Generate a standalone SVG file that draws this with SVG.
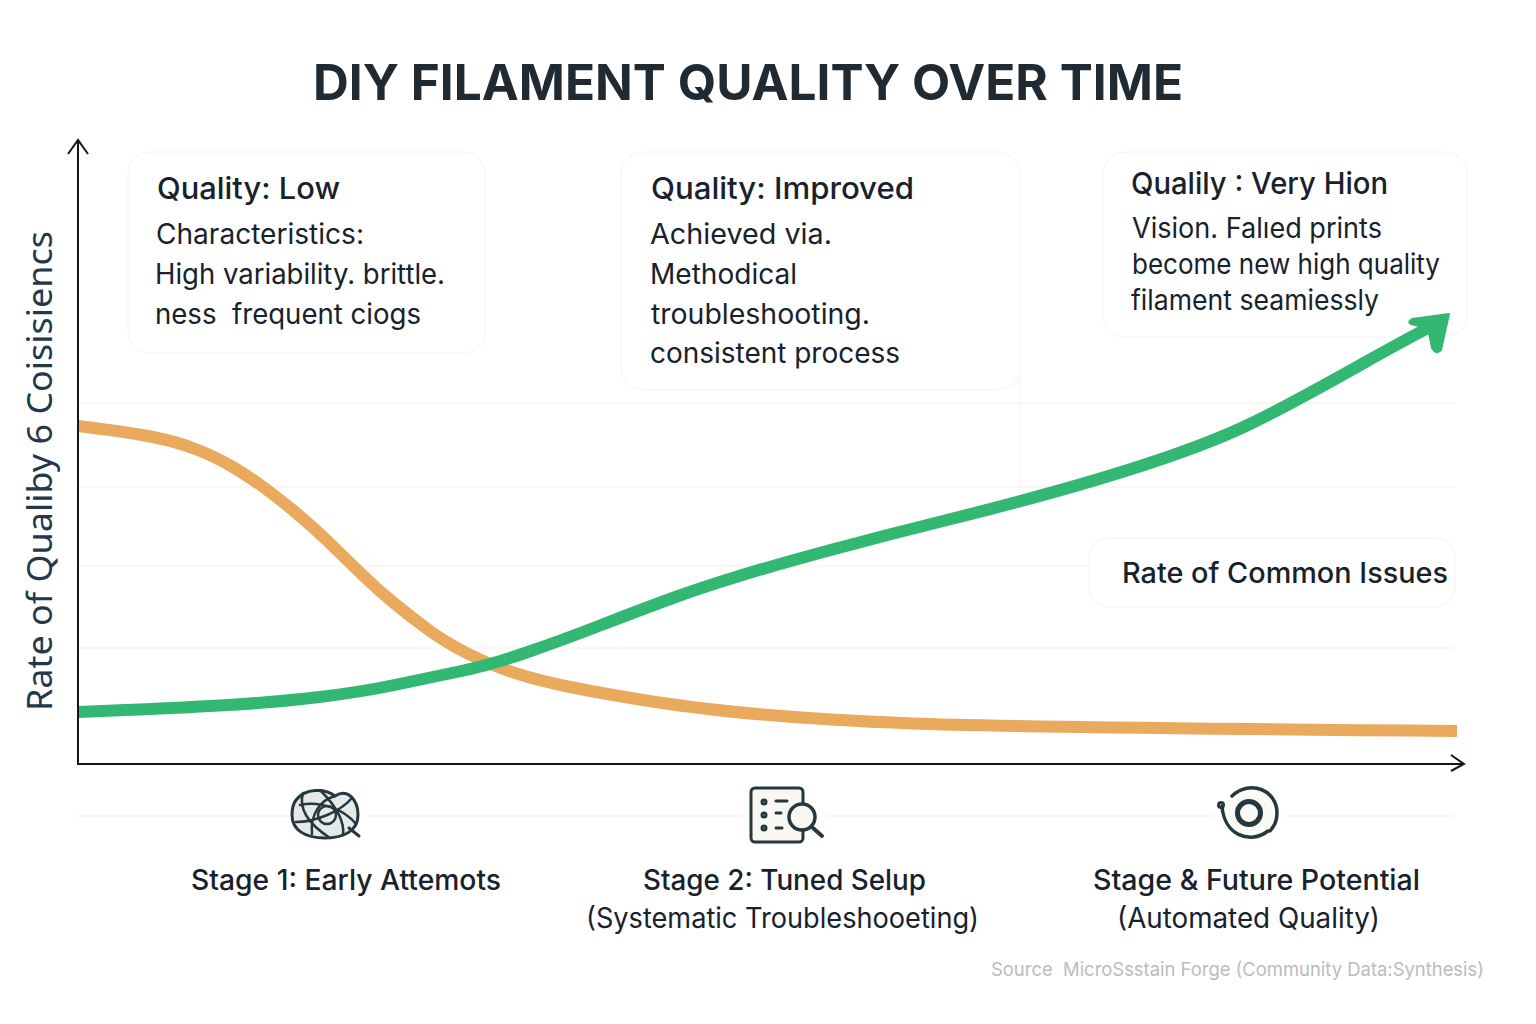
<svg xmlns="http://www.w3.org/2000/svg" width="1536" height="1024" viewBox="0 0 1536 1024">
<style>
text{font-family:"Inter","Noto Sans","Liberation Sans",sans-serif;fill:#18222c;white-space:pre}
.h{font-size:30px;font-weight:500}
.b{font-size:28px}
.s{font-size:28px;font-weight:500}
.t{font-size:50px;font-weight:700;fill:#1f2a33}
.box{fill:#fff;stroke:#f8f8f3;stroke-width:1.500}
.grid{stroke:#f7f6ef;stroke-width:1.500;fill:none}
.axis{stroke:#10161a;stroke-width:2;fill:none}
.ic{fill:none;stroke:#25373f;stroke-linecap:round;stroke-linejoin:round}
</style>
<rect width="1536" height="1024" fill="#fff"/>
<g id="grid">
<path class="grid" d="M78 403H1455M78 487H1455M78 566H1088M78 648H1455M78 816H290M365 816H750M825 816H1215M1285 816H1455M1020 340V487"/>
</g>
<g id="title"><text class="t" x="313" y="100" textLength="870" lengthAdjust="spacingAndGlyphs">DIY FILAMENT QUALITY OVER TIME</text></g>
<g id="y-label"><text transform="translate(52,711) rotate(-90)" font-size="35" textLength="480" lengthAdjust="spacingAndGlyphs" style="font-family:'Noto Sans',sans-serif;fill:#23384a">Rate of Qualiby 6 Coisisiencs</text></g>
<g id="box-low">
<rect class="box" x="128" y="152" width="357" height="201" rx="22"/>
<text class="h" x="157" y="199" textLength="183" lengthAdjust="spacingAndGlyphs">Quality: Low</text>
<text class="b" x="156" y="244" textLength="208" lengthAdjust="spacingAndGlyphs">Characteristics:</text>
<text class="b" x="155" y="284" textLength="290" lengthAdjust="spacingAndGlyphs">High variability. brittle.</text>
<text class="b" x="155" y="324" textLength="266" lengthAdjust="spacingAndGlyphs">ness  frequent ciogs</text>
</g>
<g id="box-improved">
<rect class="box" x="621" y="152" width="399" height="238" rx="22"/>
<text class="h" x="651" y="199" textLength="263" lengthAdjust="spacingAndGlyphs">Quality: Improved</text>
<text class="b" x="650" y="244" textLength="182" lengthAdjust="spacingAndGlyphs">Achieved via.</text>
<text class="b" x="650" y="284" textLength="147" lengthAdjust="spacingAndGlyphs">Methodical</text>
<text class="b" x="651" y="324" textLength="219" lengthAdjust="spacingAndGlyphs">troubleshooting.</text>
<text class="b" x="650" y="363" textLength="250" lengthAdjust="spacingAndGlyphs">consistent process</text>
</g>
<g id="box-high">
<rect class="box" x="1103" y="152" width="364" height="185" rx="22"/>
<text class="h" x="1131" y="194" textLength="257" lengthAdjust="spacingAndGlyphs">Qualily : Very Hion</text>
<text class="b" x="1132" y="238" textLength="250" lengthAdjust="spacingAndGlyphs">Vision. Falıed prints</text>
<text class="b" x="1132" y="274" textLength="308" lengthAdjust="spacingAndGlyphs">become new high quality</text>
<text class="b" x="1131" y="310" textLength="248" lengthAdjust="spacingAndGlyphs">filament seamiessly</text>
</g>
<g id="box-issues">
<rect class="box" x="1089" y="538" width="366" height="69" rx="20"/>
<text class="s" x="1122" y="583" textLength="326" lengthAdjust="spacingAndGlyphs">Rate of Common Issues</text>
</g>
<g id="connectors">
<path d="M78 426Q128 432 153 437Q178 442 198 450Q218 458 234.500 468Q251 478 264.500 488Q278 498 294.500 511.500Q311 525 328 541.500Q345 558 361.500 574Q378 590 394.500 603.500Q411 617 428 629.500Q445 642 467.500 653.500Q490 665 515 673Q540 681 572.500 687.500Q605 694 652.500 701.500Q700 709 762.500 714.500Q825 720 912.500 723.500Q1000 727 1457 731" fill="none" stroke="#e9aa5e" stroke-width="12"/>
<path d="M78 712Q178 708 228 705Q278 702 319.500 697Q361 692 394.500 685Q428 678 459 671.500Q490 665 525 653Q560 641 600 625.500Q640 610 670 599Q700 588 737.500 576.500Q775 565 832.500 549.500Q890 534 945 520.500C1060 492 1180 458 1250 424C1320 390 1380 352 1434 325" fill="none" stroke="#33b873" stroke-width="12"/>
<path d="M1449 314L1412 319Q1407 322 1411 324L1428 328L1432 348Q1436 355 1441 350Z" fill="#33b873" stroke="#33b873" stroke-width="2" stroke-linejoin="round"/>
<path class="axis" d="M78 765V140M68 154L78 140L88 154M78 764H1463M1451 755L1464 764L1451 771"/>
</g>
<g id="icon-tangle" class="ic">
<path d="M296 800C305 788 325 788 335 796C348 788 358 800 358 815C358 830 345 838 325 838C305 838 292 830 292 815C292 808 293 804 296 800Z" fill="#e6eae6" stroke-width="3"/>
<path d="M335 796C320 800 310 815 312 834M303 793C298 810 310 825 330 838M296 822C315 822 340 812 352 798M300 805C320 800 345 810 356 824M320 790C335 805 345 820 343 835" stroke-width="2.500"/>
<circle cx="327" cy="815" r="9" stroke-width="2.500"/>
<path d="M349 828L359 836" stroke-width="3"/>
</g>
<g id="icon-checklist" class="ic">
<rect x="751" y="788" width="52" height="54" rx="4" fill="#f8f7f1" stroke-width="3"/>
<path d="M776 801H787M776 813H781M776 828H782" stroke-width="3"/>
<circle cx="764" cy="802" r="2" stroke-width="3"/><circle cx="764" cy="815" r="2" stroke-width="3"/><circle cx="764" cy="828" r="2" stroke-width="3"/>
<circle cx="802" cy="817" r="13" fill="#f8f7f1" stroke-width="3.500"/>
<path d="M813 828L822 836" stroke-width="4"/>
</g>
<g id="icon-cycle" class="ic">
<circle cx="1249" cy="814" r="27" fill="#fafaf6" stroke="none"/>
<circle cx="1249" cy="813" r="11.500" stroke-width="5"/>
<path d="M1232 796C1250 779 1277 790 1277 813C1277 822 1274 826 1270 831" stroke-width="3.500"/>
<path d="M1268 831C1250 845 1224 835 1222 806" stroke-width="3.500"/>
<circle cx="1221" cy="805" r="2.500" stroke-width="3"/>
</g>
<g id="stage-1"><text class="s" x="191" y="890" textLength="310" lengthAdjust="spacingAndGlyphs">Stage 1: Early Attemots</text></g>
<g id="stage-2">
<text class="s" x="643" y="890" textLength="283" lengthAdjust="spacingAndGlyphs">Stage 2: Tuned Selup</text>
<text class="b" x="586" y="928" textLength="393" lengthAdjust="spacingAndGlyphs">(Systematic Troubleshooeting)</text>
</g>
<g id="stage-3">
<text class="s" x="1093" y="890" textLength="327" lengthAdjust="spacingAndGlyphs">Stage &amp; Future Potential</text>
<text class="b" x="1117" y="928" textLength="263" lengthAdjust="spacingAndGlyphs">(Automated Quality)</text>
</g>
<g id="source"><text x="991" y="976" font-size="19" textLength="493" lengthAdjust="spacingAndGlyphs" style="fill:#bcbcbc">Source  MicroSsstain Forge (Community Data:Synthesis)</text></g>
</svg>
